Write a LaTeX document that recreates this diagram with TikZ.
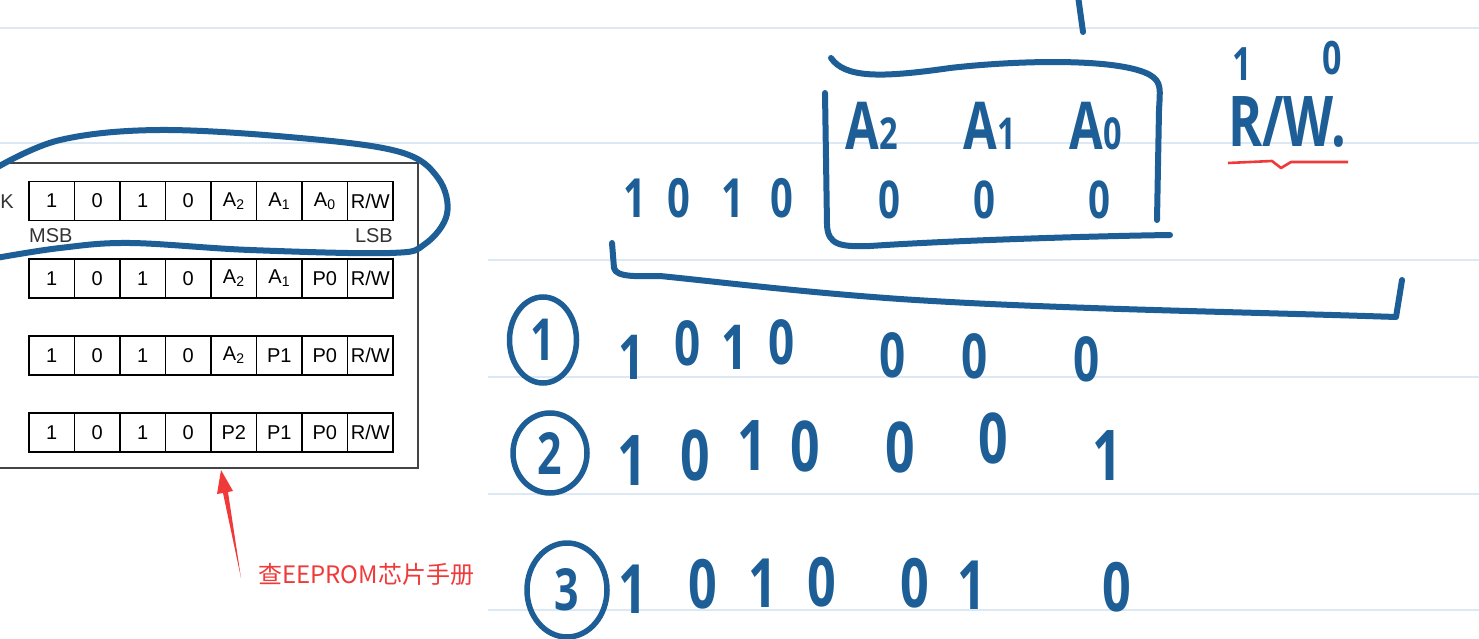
\documentclass[tikz,border=0pt]{standalone}
\usepackage{fontspec}
\setmainfont{Liberation Sans}
\newfontfamily\handfont[FakeStretch=0.74]{Open Sans}
\newfontfamily\cjkfont{Noto Sans CJK SC}
\usepackage{tikz}
\usetikzlibrary{arrows.meta,shapes.geometric}
\definecolor{inkblue} {HTML}{1D5E97}
\definecolor{redink}  {HTML}{F03A3A}
\definecolor{rulec}   {HTML}{DCE9F4}
\definecolor{framec}  {HTML}{444444}
\tikzset{
  paper/.style   = {draw=rulec, line width=1.6pt},
  bitcell/.style = {draw=black, line width=1.8pt, minimum width=45.5pt,
                    minimum height=39pt, inner sep=0pt,
                    font=\fontsize{20}{20}\selectfont},
  lbl/.style     = {inner sep=0pt, text=black!80, font=\fontsize{20}{20}\selectfont},
  inkline/.style = {draw=inkblue, line width=6pt, line cap=round, line join=round},
  hand/.style    = {text=inkblue, inner sep=0pt,
                    font=\handfont\bfseries\fontsize{#1}{#1}\selectfont},
  hand/.default  = 62,
  circnum/.style = {ellipse, draw=inkblue, line width=5.5pt, text=inkblue,
                    inner sep=0pt, font=\handfont\bfseries\fontsize{58}{58}\selectfont},
  redline/.style = {draw=redink, line width=2.6pt, line join=round},
}

\begin{document}
\begin{tikzpicture}[x=1pt,y=-1pt]
  \fill[white] (0,0) rectangle (1479,639);
  \clip (0,0) rectangle (1479,639);

  % ruled paper
  \draw[paper] (0,28) -- (1479,28);
  \draw[paper] (0,143) -- (1479,143);
  \foreach \y in {260,377,494,610}
    \draw[paper] (488,\y) -- (1479,\y);

  % datasheet clip on the left
  \draw[framec, line width=2.5pt] (-10,163) rectangle (418,468);
  \node[lbl, anchor=east] (ack) at (14,202) {K};
  \foreach \t [count=\c] in {1,0,1,0,A\textsubscript{2},A\textsubscript{1},A\textsubscript{0},R/W}
    \node[bitcell] (ra\c) at ({29+45.5*(\c-0.5)},201) {\t};
  \foreach \t [count=\c] in {1,0,1,0,A\textsubscript{2},A\textsubscript{1},P0,R/W}
    \node[bitcell] (rb\c) at ({29+45.5*(\c-0.5)},278.5) {\t};
  \foreach \t [count=\c] in {1,0,1,0,A\textsubscript{2},P1,P0,R/W}
    \node[bitcell] (rc\c) at ({29+45.5*(\c-0.5)},355.5) {\t};
  \foreach \t [count=\c] in {1,0,1,0,P2,P1,P0,R/W}
    \node[bitcell] (rd\c) at ({29+45.5*(\c-0.5)},432.5) {\t};
  \node[lbl, anchor=west] (msb) at (29,236) {MSB};
  \node[lbl, anchor=east] (lsb) at (393,236) {LSB};

  % loop round the first row
  \draw[inkline] plot[smooth, tension=0.6] coordinates {(-4,168) (60,140) (160,130)
    (300,138) (400,152) (438,178) (447,214) (425,244) (390,253) (250,250)
    (130,243) (60,248) (-4,258)};

  % red note
  \node[anchor=west, inner sep=0pt, text=redink,
        font=\cjkfont\fontsize{24}{24}\selectfont] (note) at (258,574) {查EEPROM芯片手册};
  \coordinate (tail) at (241,578);
  \coordinate (tip) at (221,470);
  \fill[redink] (tip) -- (233,491) -- (228,492) -- (tail) -- (223,493) -- (217,494) -- cycle;

  % handwritten address byte
  \draw[inkline] (1078,-4) -- (1083,32);
  \draw[inkline] (831,58) .. controls (845,78) and (880,78) .. (950,68)
    .. controls (1020,60) and (1120,58) .. (1150,75)
    .. controls (1162,82) and (1160,90) .. (1159,110) -- (1157,220);
  \draw[inkline] (825,93) -- (827,225) .. controls (828,245) and (840,247) .. (870,246)
    .. controls (960,240) and (1100,236) .. (1170,235);
  \draw[inkline] (612,243) -- (614,268) .. controls (616,278) and (640,276) .. (660,276)
    .. controls (720,282) and (800,292) .. (900,299)
    .. controls (1050,309) and (1250,312) .. (1396,317) -- (1402,280);

  \foreach \x/\y/\d [count=\i] in {635/198/1,679/198/0,733/198/1,782/198/0}
    \node[hand=54] (top\i) at (\x,\y) {\d};
  \foreach \x [count=\i] in {889,984,1099}
    \node[hand=52] (zero\i) at (\x,200) {0};
  \node[hand=66, anchor=base] (a2) at (872,150) {A\fontsize{44}{44}\selectfont 2};
  \node[hand=66, anchor=base] (a1) at (990,150) {A\fontsize{44}{44}\selectfont 1};
  \node[hand=66, anchor=base] (a0) at (1096,150) {A\fontsize{44}{44}\selectfont 0};
  \node[hand=46] (rbit) at (1242,64) {1};
  \node[hand=46] (wbit) at (1332,58) {0};
  \node[hand=70, anchor=base] (rw) at (1287,147) {R/W.};
  \draw[redline] (1228,163) -- (1272,161) -- (1281,168) -- (1291,162) -- (1348,162);

  % three cases
  \node[circnum, minimum width=67pt, minimum height=86pt] (n1) at (543,340) {1};
  \node[circnum, minimum width=74pt, minimum height=80pt] (n2) at (550,453) {2};
  \node[circnum, minimum width=80pt, minimum height=94pt] (n3) at (567,590) {3};
  \foreach \x/\y/\d [count=\i] in {632/357/1,688/343/0,735/347/1,782/342/0,893/355/0,975/356/0,1087/359/0}
    \node[hand=62] (ca\i) at (\x,\y) {\d};
  \foreach \x/\y/\d [count=\i] in {632/461/1,695/455/0,752/446/1,805/446/0,900/447/0,993/438/0,1107/456/1}
    \node[hand=70] (cb\i) at (\x,\y) {\d};
  \foreach \x/\y/\d [count=\i] in {633/589/1,703/584/0,763/583/1,822/582/0,915/583/0,972/585/1,1117/587/0}
    \node[hand=68] (cc\i) at (\x,\y) {\d};
\end{tikzpicture}
\end{document}
